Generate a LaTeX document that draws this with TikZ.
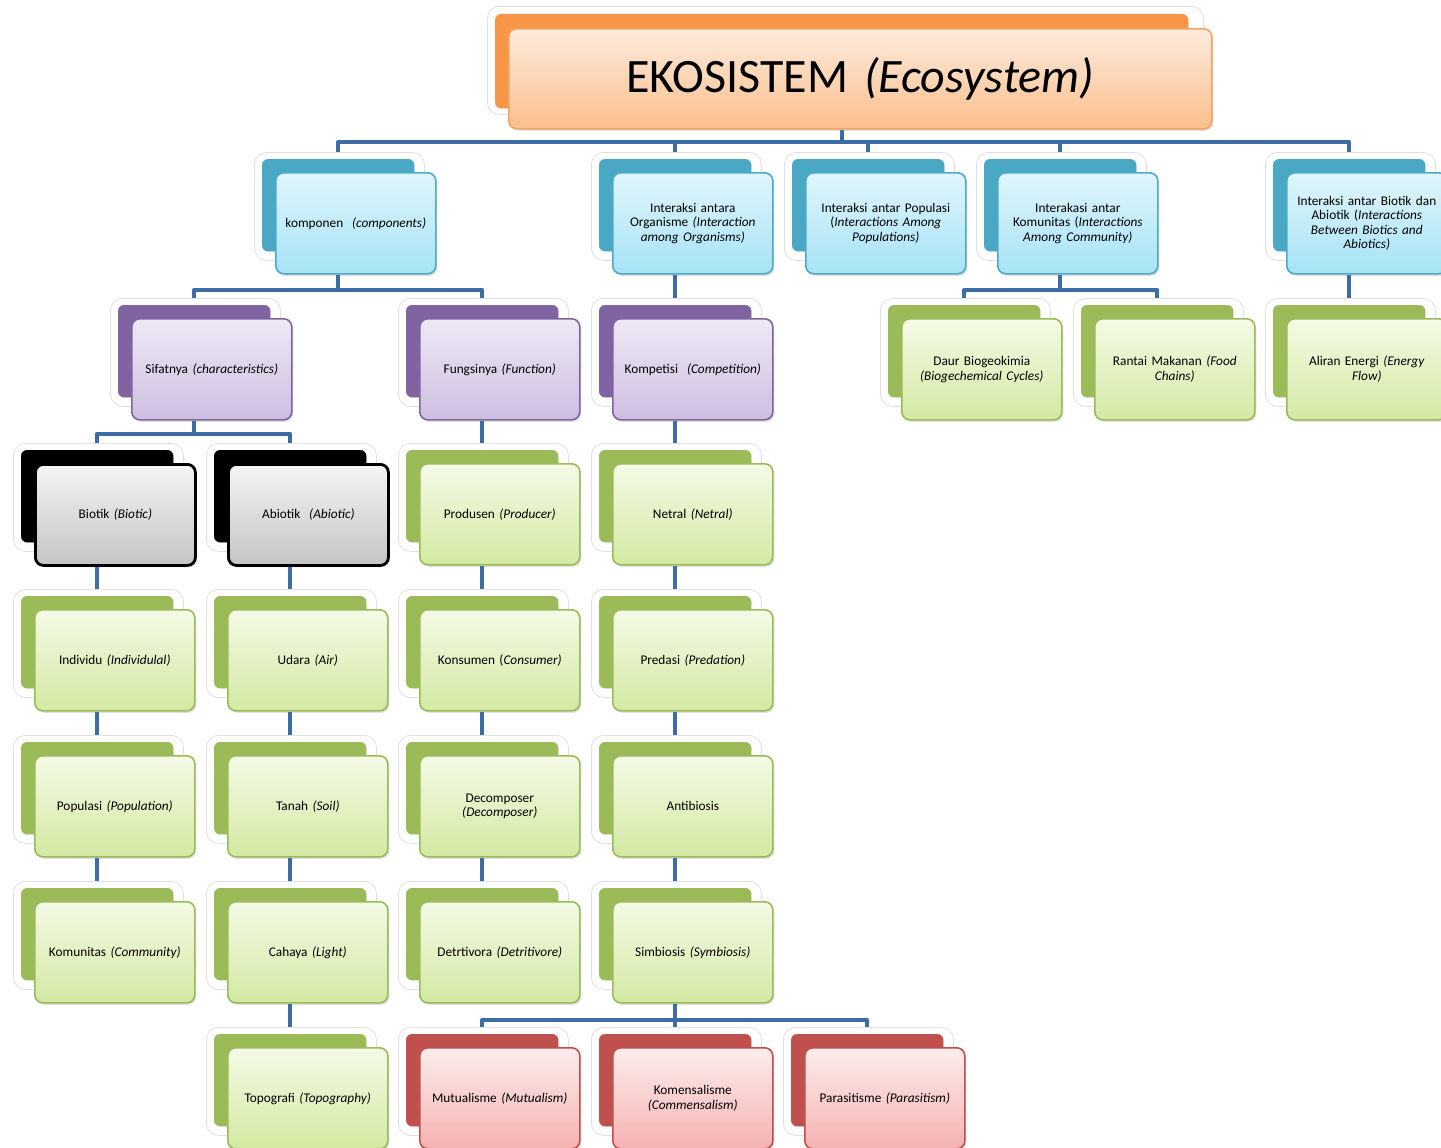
\documentclass[tikz,border=0pt]{standalone}
\usepackage{fontspec}
\setmainfont{Carlito}
\usetikzlibrary{shadows}

% colour sets: B back card, L front border, T/U front shading top/bottom
\definecolor{linkblue}{HTML}{3E6CA6}
\definecolor{amberB}{HTML}{F79646}\definecolor{amberL}{HTML}{F4A462}
\definecolor{amberT}{HTML}{FDEBDD}\definecolor{amberU}{HTML}{FABF8C}
\definecolor{aquaB}{HTML}{4BA8C4}\definecolor{aquaL}{HTML}{4BACC6}
\definecolor{aquaT}{HTML}{E0F5FB}\definecolor{aquaU}{HTML}{A6E3F6}
\definecolor{lilacB}{HTML}{8064A2}\definecolor{lilacL}{HTML}{8064A2}
\definecolor{lilacT}{HTML}{EEE9F4}\definecolor{lilacU}{HTML}{CDBEE0}
\definecolor{leafB}{HTML}{9BBB59}\definecolor{leafL}{HTML}{9BBB59}
\definecolor{leafT}{HTML}{F4FAE6}\definecolor{leafU}{HTML}{D3E9A2}
\definecolor{roseB}{HTML}{C0504D}\definecolor{roseL}{HTML}{C0504D}
\definecolor{roseT}{HTML}{FDECEC}\definecolor{roseU}{HTML}{F5B2B2}
\definecolor{inkB}{HTML}{000000}\definecolor{inkL}{HTML}{000000}
\definecolor{inkT}{HTML}{F5F5F5}\definecolor{inkU}{HTML}{C4C4C4}

% one stacked card: halo, back card, front card with text
\newcommand{\cardstack}[6][]{%
  \node[cardhalo] (#2-h) at (#3-21,#4-20) {};
  \node[cardback=#5] (#2-b) at (#3-13,#4-13) {};
  \node[cardfront=#5,#1] (#2) at (#3,#4) {#6};
}

\begin{document}
\begin{tikzpicture}[x=1pt,y=-1pt,
    cardhalo/.style={anchor=north west, inner sep=0, minimum width=170, minimum height=108,
      rounded corners=12pt, fill=white, draw=black!12, line width=0.8pt},
    cardback/.style={anchor=north west, inner sep=0, minimum width=152, minimum height=92,
      rounded corners=6pt, fill=#1B, draw=#1B},
    cardfront/.style={anchor=north west, inner sep=0, minimum width=160, minimum height=101,
      rounded corners=8pt, draw=#1L, line width=1.6pt, top color=#1T, bottom color=#1U,
      drop shadow={shadow xshift=1.5pt, shadow yshift=-2pt, opacity=.25},
      text width=152pt, align=center, font=\fontsize{13.3}{14.6}\selectfont},
    link/.style={draw=linkblue, line width=4pt, line join=round}]
  \useasboundingbox (0,0) rectangle (1441,1148);
  %
  \node[cardhalo, minimum width=716, minimum height=108] (eko-h) at (487,6) {};
  \node[cardback=amber, minimum width=693, minimum height=94] (eko-b) at (495,14) {};
  \node[cardfront=amber, minimum width=703, minimum height=100, text width=690pt,
    font=\fontsize{48}{52}\selectfont] (eko) at (508,28) {EKOSISTEM \textit{(Ecosystem)}};
  %
  \cardstack{komp}{275}{172}{aqua}{komponen\ \ \textit{(components)}}
  \cardstack{org}{612}{172}{aqua}{Interaksi antara\\Organisme \textit{(Interaction}\\\textit{among Organisms)}}
  \cardstack{pop}{805}{172}{aqua}{Interaksi antar Populasi\\(\textit{Interactions Among}\\\textit{Populations)}}
  \cardstack{kom}{997}{172}{aqua}{Interakasi antar\\Komunitas (\textit{Interactions}\\\textit{Among Community)}}
  \cardstack{biab}{1286}{172}{aqua}{Interaksi antar Biotik dan\\Abiotik (\textit{Interactions}\\\textit{Between Biotics and}\\\textit{Abiotics)}}
  %
  \cardstack{sifat}{131}{318}{lilac}{Sifatnya \textit{(characteristics)}}
  \cardstack{fungsi}{419}{318}{lilac}{Fungsinya \textit{(Function)}}
  \cardstack{kompet}{612}{318}{lilac}{Kompetisi\ \ \textit{(Competition)}}
  \cardstack{daur}{901}{318}{leaf}{Daur Biogeokimia\\\textit{(Biogechemical Cycles)}}
  \cardstack{rantai}{1094}{318}{leaf}{Rantai Makanan \textit{(Food}\\\textit{Chains)}}
  \cardstack{aliran}{1286}{318}{leaf}{Aliran Energi \textit{(Energy}\\\textit{Flow)}}
  %
  \cardstack[line width=2.8pt]{biotik}{34}{463}{ink}{Biotik \textit{(Biotic)}}
  \cardstack[line width=2.8pt]{abiotik}{227}{463}{ink}{Abiotik\ \ \textit{(Abiotic)}}
  \cardstack{produsen}{419}{463}{leaf}{Produsen \textit{(Producer)}}
  \cardstack{netral}{612}{463}{leaf}{Netral \textit{(Netral)}}
  %
  \cardstack{individu}{34}{609}{leaf}{Individu \textit{(Individulal)}}
  \cardstack{udara}{227}{609}{leaf}{Udara \textit{(Air)}}
  \cardstack{konsumen}{419}{609}{leaf}{Konsumen (\textit{Consumer)}}
  \cardstack{predasi}{612}{609}{leaf}{Predasi \textit{(Predation)}}
  %
  \cardstack{populasi}{34}{755}{leaf}{Populasi \textit{(Population)}}
  \cardstack{tanah}{227}{755}{leaf}{Tanah \textit{(Soil)}}
  \cardstack{dekomp}{419}{755}{leaf}{Decomposer\\\textit{(Decomposer)}}
  \cardstack{antibio}{612}{755}{leaf}{Antibiosis}
  %
  \cardstack{komunitas}{34}{901}{leaf}{Komunitas \textit{(Community)}}
  \cardstack{cahaya}{227}{901}{leaf}{Cahaya \textit{(Light)}}
  \cardstack{detri}{419}{901}{leaf}{Detrtivora \textit{(Detritivore)}}
  \cardstack{simbio}{612}{901}{leaf}{Simbiosis \textit{(Symbiosis)}}
  %
  \cardstack{topo}{227}{1047}{leaf}{Topografi \textit{(Topography)}}
  \cardstack{mutual}{419}{1047}{rose}{Mutualisme \textit{(Mutualism)}}
  \cardstack{komensal}{612}{1047}{rose}{Komensalisme\\\textit{(Commensalism)}}
  \cardstack{parasit}{804}{1047}{rose}{Parasitisme \textit{(Parasitism)}}
  %
  % connectors
  \coordinate (bus-a) at (0,142);
  \coordinate (bus-b) at (0,290);
  \coordinate (bus-c) at (0,434);
  \coordinate (bus-d) at (0,1020);
  \draw[link] (eko-b |- eko.south) -- (eko-b |- bus-a);
  \draw[link] (komp-b |- komp-h.north) -- (komp-b |- bus-a) -- (biab-b |- bus-a) -- (biab-b |- biab-h.north);
  \foreach \n in {org,pop,kom}
    \draw[link] (\n-b |- bus-a) -- (\n-b |- \n-h.north);
  %
  \draw[link] (komp-b |- komp.south) -- (komp-b |- bus-b);
  \draw[link] (sifat-b |- sifat-h.north) -- (sifat-b |- bus-b) -- (fungsi-b |- bus-b) -- (fungsi-b |- fungsi-h.north);
  \draw[link] (kom-b |- kom.south) -- (kom-b |- bus-b);
  \draw[link] (daur-b |- daur-h.north) -- (daur-b |- bus-b) -- (rantai-b |- bus-b) -- (rantai-b |- rantai-h.north);
  \draw[link] (sifat-b |- sifat.south) -- (sifat-b |- bus-c);
  \draw[link] (biotik-b |- biotik-h.north) -- (biotik-b |- bus-c) -- (abiotik-b |- bus-c) -- (abiotik-b |- abiotik-h.north);
  \draw[link] (simbio-b |- simbio.south) -- (simbio-b |- bus-d);
  \draw[link] (mutual-b |- mutual-h.north) -- (mutual-b |- bus-d) -- (parasit-b |- bus-d) -- (parasit-b |- parasit-h.north);
  \draw[link] (komensal-b |- bus-d) -- (komensal-b |- komensal-h.north);
  %
  \foreach \a/\b in {org/kompet, biab/aliran, fungsi/produsen, kompet/netral,
      biotik/individu, individu/populasi, populasi/komunitas,
      abiotik/udara, udara/tanah, tanah/cahaya, cahaya/topo,
      produsen/konsumen, konsumen/dekomp, dekomp/detri,
      netral/predasi, predasi/antibio, antibio/simbio}
    \draw[link] (\a-b |- \a.south) -- (\a-b |- \b-h.north);
\end{tikzpicture}
\end{document}
